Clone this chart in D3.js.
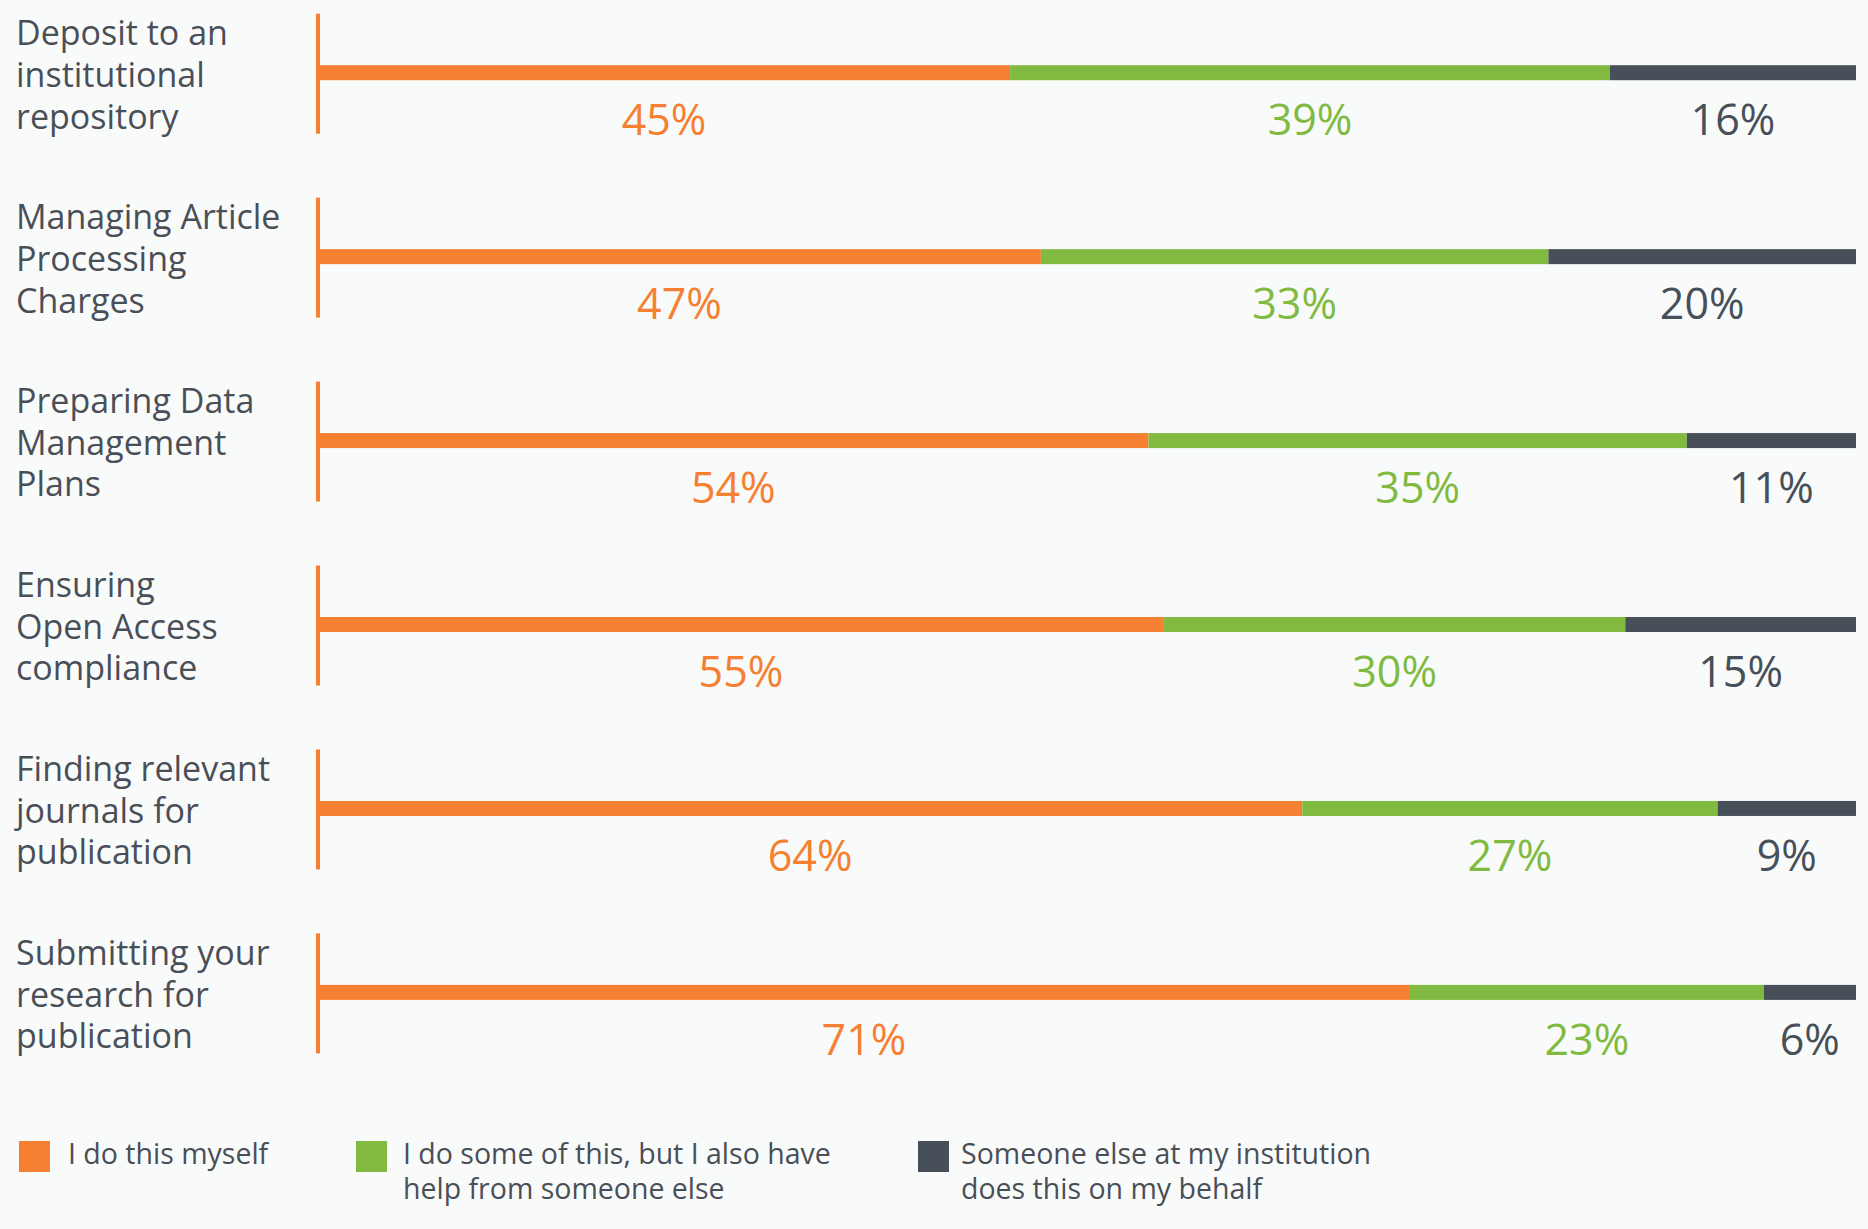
<!DOCTYPE html>
<html>
<head>
<meta charset="utf-8">
<script src="https://cdn.jsdelivr.net/npm/d3@7"></script>
<style>
  html, body { margin: 0; padding: 0; background: #f9fbfb; }
  svg { display: block; }
  text { font-family: "Open Sans", "Noto Sans", sans-serif; }
</style>
</head>
<body>
<svg id="chart" width="1868" height="1229"></svg>
<script>
// ---- data ----
const categories = [
  "Deposit to an institutional repository",
  "Managing Article Processing Charges",
  "Preparing Data Management Plans",
  "Ensuring Open Access compliance",
  "Finding relevant journals for publication",
  "Submitting your research for publication"
];
const categoryLines = [
  ["Deposit to an", "institutional", "repository"],
  ["Managing Article", "Processing", "Charges"],
  ["Preparing Data", "Management", "Plans"],
  ["Ensuring", "Open Access", "compliance"],
  ["Finding relevant", "journals for", "publication"],
  ["Submitting your", "research for", "publication"]
];
const seriesNames = [
  "I do this myself",
  "I do some of this, but I also have help from someone else",
  "Someone else at my institution does this on my behalf"
];
const legendLines = [
  ["I do this myself"],
  ["I do some of this, but I also have", "help from someone else"],
  ["Someone else at my institution", "does this on my behalf"]
];
const doMyself   = [45, 47, 54, 55, 64, 71];
const someHelp   = [39, 33, 35, 30, 27, 23];
const someoneElse = [16, 20, 11, 15, 9, 6];
const colors = ["#f58031", "#80ba41", "#474f59"];

// ---- build ----
const svg = d3.select("#chart");
const W = 1868, H = 1229;
svg.append("rect").attr("width", W).attr("height", H).attr("fill", "#f9fbfb");

const keys = ["a", "b", "c"];
const table = categories.map((c, i) => ({ cat: c, a: doMyself[i], b: someHelp[i], c: someoneElse[i] }));
const stacked = d3.stack().keys(keys)(table);

const x = d3.scaleLinear().domain([0, 100]).range([318, 1856]);
const y = d3.scalePoint().domain(categories).range([72.7, 992.4]);
const color = d3.scaleOrdinal().domain(keys).range(colors);

const barH = 15;

// axis lines per group
svg.append("g").selectAll("line").data(categories).join("line")
  .attr("x1", x(0)).attr("x2", x(0))
  .attr("y1", d => y(d) - 59).attr("y2", d => y(d) + 61)
  .attr("stroke", colors[0]).attr("stroke-width", 4);

// bars
const layers = svg.append("g").selectAll("g").data(stacked).join("g")
  .attr("fill", d => color(d.key));
layers.selectAll("rect").data(d => d).join("rect")
  .attr("x", d => x(d[0]))
  .attr("width", d => x(d[1]) - x(d[0]))
  .attr("y", d => y(d.data.cat) - barH / 2)
  .attr("height", barH);

// value labels
const lbl = svg.append("g").selectAll("g").data(stacked).join("g")
  .attr("fill", d => color(d.key));
lbl.selectAll("text").data(d => d).join("text")
  .attr("x", d => (x(d[0]) + x(d[1])) / 2)
  .attr("y", d => y(d.data.cat) + 62.5)
  .attr("text-anchor", "middle")
  .attr("font-size", 43)
  .text(d => (d[1] - d[0]) + "%");

// category labels
const cl = svg.append("g").selectAll("text").data(categories).join("text")
  .attr("x", 16)
  .attr("y", d => y(d) - 27.5)
  .attr("font-size", 34)
  .attr("fill", "#4a4f57");
cl.selectAll("tspan").data((d, i) => categoryLines[i]).join("tspan")
  .attr("x", 16)
  .attr("dy", (d, j) => j === 0 ? 0 : 41.7)
  .text(d => d);

// legend
const legX = [19, 356, 918];
const legTextX = [68, 403, 961];
const leg = svg.append("g").selectAll("g").data(seriesNames).join("g");
leg.append("rect")
  .attr("x", (d, i) => legX[i]).attr("y", 1141)
  .attr("width", 31).attr("height", 31)
  .attr("fill", (d, i) => colors[i]);
leg.append("text")
  .attr("y", 1164)
  .attr("font-size", 28.5).attr("fill", "#4a4f57")
  .each(function (d, i) {
    d3.select(this).selectAll("tspan").data(legendLines[i]).join("tspan")
      .attr("x", legTextX[i]).attr("dy", (t, j) => j === 0 ? 0 : 35)
      .text(t => t);
  });
</script>
</body>
</html>
